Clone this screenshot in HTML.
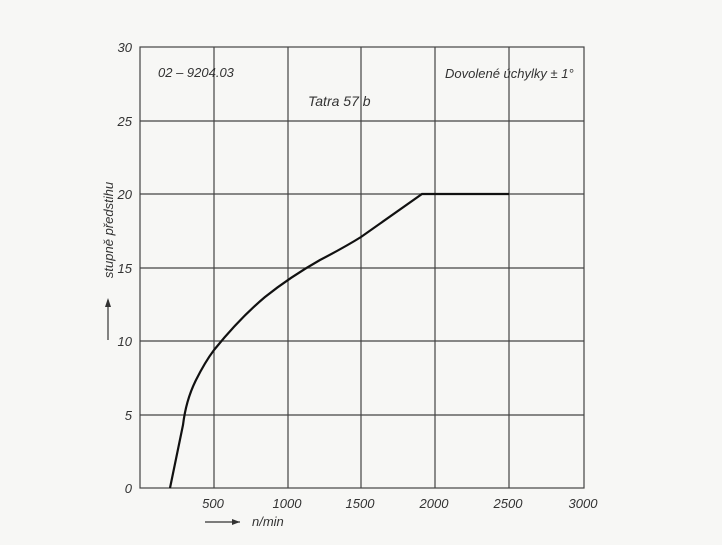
<!DOCTYPE html>
<html><head><meta charset="utf-8"><style>
body{margin:0;background:#f7f7f5;}
svg text{font-family:"Liberation Sans",sans-serif;font-style:italic;fill:#333;}
</style></head><body>
<svg width="722" height="540" viewBox="0 0 722 540" xmlns="http://www.w3.org/2000/svg">
<rect width="722" height="540" fill="#f7f7f5"/>
<g stroke="#444" stroke-width="1.2" fill="none">
<rect x="140" y="47" width="444" height="441"/>
<line x1="214" y1="47" x2="214" y2="488"/>
<line x1="288" y1="47" x2="288" y2="488"/>
<line x1="361" y1="47" x2="361" y2="488"/>
<line x1="435" y1="47" x2="435" y2="488"/>
<line x1="509" y1="47" x2="509" y2="488"/>
<line x1="140" y1="121" x2="584" y2="121"/>
<line x1="140" y1="194" x2="584" y2="194"/>
<line x1="140" y1="268" x2="584" y2="268"/>
<line x1="140" y1="341" x2="584" y2="341"/>
<line x1="140" y1="415" x2="584" y2="415"/>
</g>
<path d="M170,488 L183,425 Q186,400 196,380 Q205,362 214,350 Q240,318 265,297 Q290,277 320,260 Q345,247 361,237 L422,194 L509,194" stroke="#111" stroke-width="2.2" fill="none"/>
<g font-size="13" text-anchor="end">
<text x="132" y="52">30</text><text x="132" y="126">25</text><text x="132" y="199">20</text>
<text x="132" y="273">15</text><text x="132" y="346">10</text><text x="132" y="420">5</text><text x="132" y="493">0</text>
</g>
<g font-size="13" text-anchor="middle">
<text x="213" y="508">500</text><text x="287" y="508">1000</text><text x="360" y="508">1500</text>
<text x="434" y="508">2000</text><text x="508" y="508">2500</text><text x="583" y="508">3000</text>
</g>
<text x="252" y="526" font-size="13">n/min</text>
<line x1="205" y1="522" x2="240" y2="522" stroke="#333" stroke-width="1.2"/>
<path d="M240,522 l-8,-3 v6z" fill="#333"/>
<text x="158" y="77" font-size="13">02 – 9204.03</text>
<text x="308" y="106" font-size="14">Tatra 57 b</text>
<text x="445" y="78" font-size="13">Dovolené úchylky ± 1°</text>
<text transform="translate(113,230) rotate(-90)" font-size="13" text-anchor="middle">stupně předstihu</text>
<line x1="108" y1="340" x2="108" y2="300" stroke="#333" stroke-width="1.2"/>
<path d="M108,298 l-3,9 h6z" fill="#333"/>
</svg>
</body></html>
